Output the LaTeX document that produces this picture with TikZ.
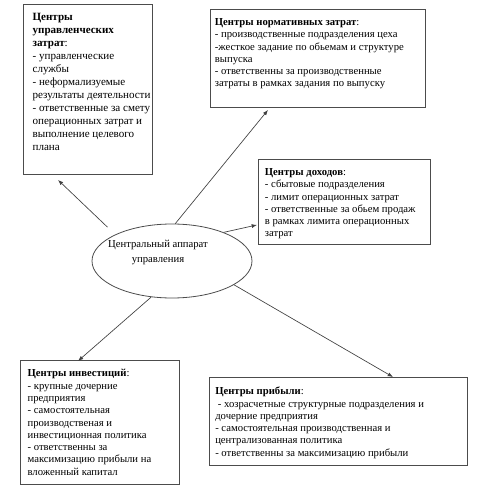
\documentclass[tikz,border=0pt]{standalone}
\usepackage{fontspec}
\setmainfont{Liberation Serif}
\usetikzlibrary{arrows.meta,shapes.geometric,calc}
\tikzset{
  centre/.style 2 args={%
    draw=black!70, line width=0.7pt,
    anchor=north west, inner sep=0pt,
    minimum width=#1,
    minimum height=#2,
  },
  body/.style={%
    anchor=north west, align=left, inner sep=0pt,
    xshift=5.5pt, yshift=-7pt,
    font=\fontsize{8}{9.2}\selectfont,
  },
  link/.style={%
    -{Latex[length=4pt,width=3pt]},
    draw=black!75, line width=0.5pt,
  }
}
\begin{document}
\begin{tikzpicture}[x=0.75pt,y=-0.75pt]
\useasboundingbox (0,0) rectangle (479,495);
% centres
\node[centre={96.75pt}{127.5pt},
  label={[body,xshift=1.5pt,font=\fontsize{8.3}{9.75}\selectfont]north west:{\textbf{Центры}\\\textbf{управленческих}\\\textbf{затрат}:\\- управленческие\\службы\\- неформализуемые\\результаты деятельности\\- ответственные за смету\\операционных затрат и\\выполнение целевого\\плана}}] (upr) at (23,4) {};
\node[centre={161.25pt}{73.5pt},
  label={[body,xshift=-2pt]north west:{\textbf{Центры нормативных затрат}:\\- производственные подразделения цеха\\-жесткое задание по обьемам и структуре\\выпуска\\- ответственны за производственные\\затраты в рамках задания по выпуску}}] (norm) at (210,9) {};
\node[centre={129pt}{63.75pt},
  label={[body,xshift=-0.5pt]north west:{\textbf{Центры доходов}:\\- сбытовые подразделения\\- лимит операционных затрат\\- ответственные за обьем продаж\\в рамках лимита операционных\\затрат}}] (doh) at (258,159) {};
\node[centre={119.25pt}{93pt},
  label={[body]north west:{\textbf{Центры инвестиций}:\\- крупные дочерние\\предприятия\\- самостоятельная\\производственая и\\инвестиционная политика\\- ответственны за\\максимизацию прибыли на\\вложенный капитал}}] (inv) at (20,360) {};
\node[centre={193.5pt}{66pt},
  label={[body,xshift=-1pt,yshift=-0.5pt]north west:{\textbf{Центры прибыли}:\\\hspace{2pt}- хозрасчетные структурные подразделения и\\дочерние предприятия\\- самостоятельная производственная и\\централизованная политика\\- ответственны за максимизацию прибыли}}] (prib) at (209,377) {};
% central office
\node[draw=black!70, line width=0.6pt, ellipse, inner sep=0pt,
  minimum width=120pt, minimum height=55.5pt,
  label={[align=center, font=\fontsize{8}{11}\selectfont, xshift=-10.5pt, yshift=6.5pt]center:{Центральный аппарат\\управления}}] (apparat) at (172,261) {};
% links
\draw[link, shorten <=8pt] (apparat.155) -- ($(upr.south west)+(35,5)$);
\draw[link] (apparat.85) -- ($(norm.south west)+(58,2)$);
\draw[link] (apparat.29) -- ($(doh.south west)+(-1,-20)$);
\draw[link] (apparat.240) -- ($(inv.north west)+(58,1)$);
\draw[link] (apparat.339) -- ($(prib.north west)+(184,0)$);
\end{tikzpicture}
\end{document}
